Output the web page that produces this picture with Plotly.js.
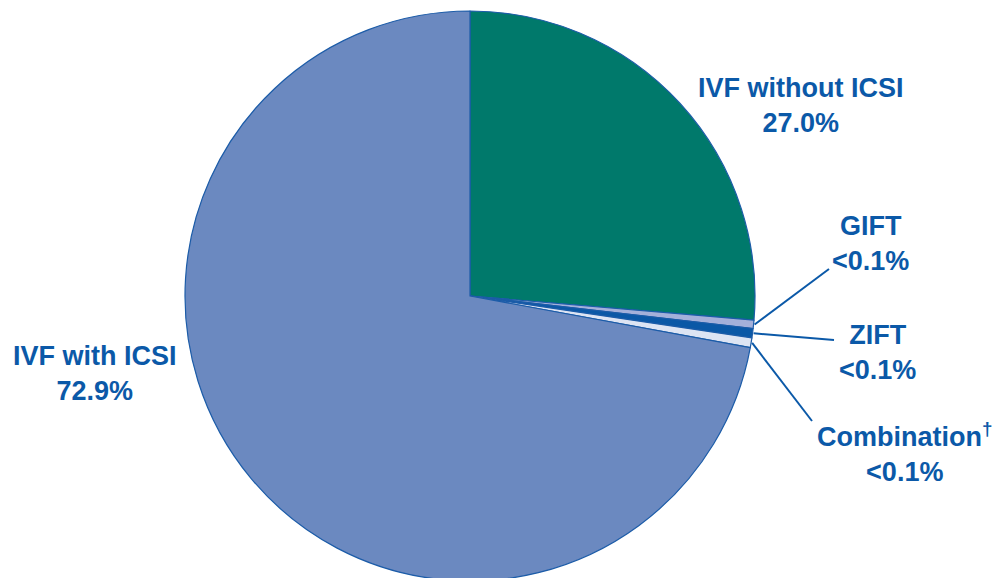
<!DOCTYPE html>
<html>
<head>
<meta charset="utf-8">
<script src="https://cdn.plot.ly/plotly-3.0.1.min.js"></script>
<style>
html,body{margin:0;padding:0;background:#fff;overflow:hidden;}
#wrap{width:998px;height:578px;overflow:hidden;}
#chart{width:998px;height:584px;}
</style>
</head>
<body>
<div id="wrap"><div id="chart"></div></div>
<script>
// Data (slice sizes; small slices exaggerated as drawn)
const categories = ["IVF without ICSI", "GIFT", "ZIFT", "Combination", "IVF with ICSI"];
const sliceValues = [26.35, 0.47, 0.53, 0.55, 72.1];
const labelLine1 = ["IVF without ICSI", "GIFT", "ZIFT", "Combination<sup>†</sup>", "IVF with ICSI"];
const labelLine2 = ["27.0%", "<0.1%", "<0.1%", "<0.1%", "72.9%"];
const sliceColors = ["#00796b", "#a4b0da", "#0b58a6", "#dde4f3", "#6b89c0"];

const W = 998, H = 584;
const cx = 470, cy = 296, R = 285;
const domX = [(cx - R) / W, (cx + R) / W];
const domY = [(H - (cy + R)) / H, (H - (cy - R)) / H];

const textColor = "#0b59a8";
const font = {family: "Liberation Sans, Arial, sans-serif", size: 27, color: textColor};

// label text anchor positions (pixels)
const labelPos = [
  {x: 800, y: 106},
  {x: 870, y: 243},
  {x: 877, y: 352},
  {x: 905, y: 452},
  {x: 95, y: 373}
];
// leader line end points (pixels) for small slices
const leaderEnd = [null, {x: 829, y: 269}, {x: 834, y: 340}, {x: 812, y: 421}, null];

const total = sliceValues.reduce((a, b) => a + b, 0);
let cum = 0;
const shapes = [];
const annotations = [];
sliceValues.forEach((v, i) => {
  const mid = (cum + v / 2) / total * 2 * Math.PI;
  cum += v;
  if (leaderEnd[i]) {
    const sx = cx + (R + 1) * Math.sin(mid);
    const sy = cy - (R + 1) * Math.cos(mid);
    shapes.push({
      type: "line", xref: "paper", yref: "paper",
      x0: sx / W, y0: (H - sy) / H,
      x1: leaderEnd[i].x / W, y1: (H - leaderEnd[i].y) / H,
      line: {color: textColor, width: 2}
    });
  }
  annotations.push({
    xref: "paper", yref: "paper",
    x: labelPos[i].x / W, y: (H - labelPos[i].y) / H,
    xanchor: "center", yanchor: "middle",
    text: "<b>" + labelLine1[i] + "</b><br><b>" + labelLine2[i] + "</b>",
    showarrow: false, font: font, align: "center"
  });
});

const data = [{
  type: "pie",
  labels: categories,
  values: sliceValues,
  sort: false,
  direction: "clockwise",
  rotation: 0,
  textinfo: "none",
  hoverinfo: "none",
  marker: {colors: sliceColors, line: {color: "#1c5ca8", width: 1.2}},
  domain: {x: domX, y: domY},
  showlegend: false
}];

const layout = {
  width: W, height: H,
  margin: {l: 0, r: 0, t: 0, b: 0},
  paper_bgcolor: "#ffffff",
  showlegend: false,
  shapes: shapes,
  annotations: annotations
};

Plotly.newPlot("chart", data, layout, {displayModeBar: false, staticPlot: true});
</script>
</body>
</html>
